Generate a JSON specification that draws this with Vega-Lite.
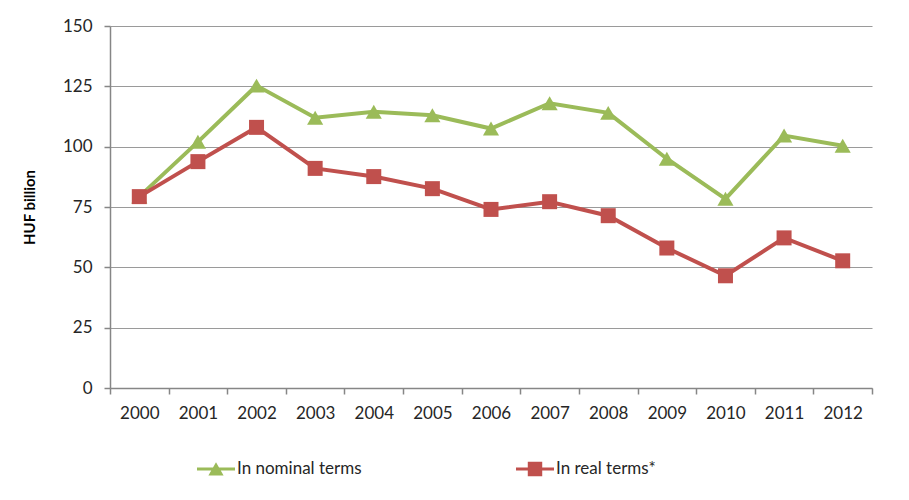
{
  "$schema": "https://vega.github.io/schema/vega-lite/v6.json",
  "width": 762,
  "height": 362,
  "autosize": {"type": "none"},
  "padding": {"left": 110, "top": 26, "right": 37, "bottom": 112},
  "background": "white",
  "config": {
    "view": {"stroke": null},
    "font": "Lato",
    "axis": {"labelFont": "Lato", "labelFontSize": 17, "labelColor": "#262626", "titleFont": "Lato"}
  },
  "data": {
    "values": [
      {"year": 2000, "series": "In nominal terms", "value": 79.3},
      {"year": 2001, "series": "In nominal terms", "value": 102},
      {"year": 2002, "series": "In nominal terms", "value": 125.3},
      {"year": 2003, "series": "In nominal terms", "value": 112},
      {"year": 2004, "series": "In nominal terms", "value": 114.5},
      {"year": 2005, "series": "In nominal terms", "value": 113},
      {"year": 2006, "series": "In nominal terms", "value": 107.5},
      {"year": 2007, "series": "In nominal terms", "value": 118},
      {"year": 2008, "series": "In nominal terms", "value": 114},
      {"year": 2009, "series": "In nominal terms", "value": 95},
      {"year": 2010, "series": "In nominal terms", "value": 78.4},
      {"year": 2011, "series": "In nominal terms", "value": 104.6},
      {"year": 2012, "series": "In nominal terms", "value": 100.4},
      {"year": 2000, "series": "In real terms*", "value": 79.3},
      {"year": 2001, "series": "In real terms*", "value": 93.8},
      {"year": 2002, "series": "In real terms*", "value": 108},
      {"year": 2003, "series": "In real terms*", "value": 91},
      {"year": 2004, "series": "In real terms*", "value": 87.6},
      {"year": 2005, "series": "In real terms*", "value": 82.6},
      {"year": 2006, "series": "In real terms*", "value": 74},
      {"year": 2007, "series": "In real terms*", "value": 77.2},
      {"year": 2008, "series": "In real terms*", "value": 71.4},
      {"year": 2009, "series": "In real terms*", "value": 58},
      {"year": 2010, "series": "In real terms*", "value": 46.5},
      {"year": 2011, "series": "In real terms*", "value": 62.2},
      {"year": 2012, "series": "In real terms*", "value": 52.7}
    ]
  },
  "resolve": {"axis": {"x": "independent"}},
  "layer": [
    {
      "mark": {"type": "rule", "opacity": 0},
      "encoding": {
        "x": {
          "field": "year", "type": "quantitative",
          "scale": {"domain": [1999.5, 2012.5], "nice": false, "zero": false},
          "axis": {
            "orient": "bottom",
            "title": null,
            "values": [2000, 2001, 2002, 2003, 2004, 2005, 2006, 2007, 2008, 2009, 2010, 2011, 2012],
            "format": "d", "domain": false, "ticks": false, "tickSize": 0, "grid": false,
            "labelPadding": 17, "labelFlush": false
          }
        },
        "y": {
          "field": "value", "type": "quantitative",
          "scale": {"domain": [0, 150], "nice": false},
          "axis": {
            "title": "HUF billion", "titleFontSize": 15, "titleFontWeight": "bold", "titleColor": "#000000",
            "titlePadding": 25,
            "values": [0, 25, 50, 75, 100, 125, 150],
            "grid": true, "gridColor": "#9a9a9a", "gridWidth": 1.2,
            "tickSize": 6, "tickColor": "#868686", "tickWidth": 1.5,
            "domainColor": "#868686", "domainWidth": 1.5,
            "labelPadding": 12
          }
        }
      }
    },
    {
      "mark": {"type": "line", "strokeWidth": 4},
      "encoding": {
        "x": {
          "field": "year", "type": "quantitative",
          "axis": {
            "orient": "bottom",
            "title": null,
            "values": [1999.5, 2000.5, 2001.5, 2002.5, 2003.5, 2004.5, 2005.5, 2006.5, 2007.5, 2008.5, 2009.5, 2010.5, 2011.5, 2012.5],
            "labels": false, "grid": false, "ticks": true, "tickSize": 6,
            "tickColor": "#868686", "domainColor": "#868686", "domainWidth": 1.5, "tickWidth": 1.5
          }
        },
        "y": {"field": "value", "type": "quantitative"},
        "color": {
          "field": "series", "type": "nominal",
          "scale": {"domain": ["In nominal terms", "In real terms*"], "range": ["#9BBB59", "#C0504D"]},
          "legend": {
            "title": null,
            "orient": "none",
            "legendX": 87,
            "legendY": 424,
            "direction": "horizontal",
            "columns": 2,
            "gridAlign": "all",
            "columnPadding": 154,
            "padding": 0,
            "symbolSize": 1444,
            "labelOffset": 2,
            "labelFont": "Lato",
            "labelFontSize": 17,
            "labelColor": "#262626",
            "labelLimit": 300,
            "encode": {
              "symbols": {
                "update": {
                  "shape": {"signal": "datum.value === 'In nominal terms' ? 'M-1,-0.08H1V0.08H-1Z M-0.4,0.34L0,-0.36L0.4,0.34Z' : 'M-1,-0.08H1V0.08H-1Z M-0.38,-0.38H0.38V0.38H-0.38Z'"},
                  "fill": {"signal": "datum.value === 'In nominal terms' ? '#9BBB59' : '#C0504D'"},
                  "stroke": {"value": "transparent"},
                  "strokeWidth": {"value": 0},
                  "opacity": {"value": 1}
                }
              }
            }
          }
        }
      }
    },
    {
      "transform": [{"filter": "datum.series === 'In nominal terms'"}],
      "mark": {"type": "point", "filled": true, "opacity": 1, "size": 260, "shape": "triangle-up", "color": "#9BBB59"},
      "encoding": {
        "x": {"field": "year", "type": "quantitative", "axis": null},
        "y": {"field": "value", "type": "quantitative"}
      }
    },
    {
      "transform": [{"filter": "datum.series === 'In real terms*'"}],
      "mark": {"type": "point", "filled": true, "opacity": 1, "size": 225, "shape": "square", "color": "#C0504D"},
      "encoding": {
        "x": {"field": "year", "type": "quantitative", "axis": null},
        "y": {"field": "value", "type": "quantitative"}
      }
    }
  ]
}
